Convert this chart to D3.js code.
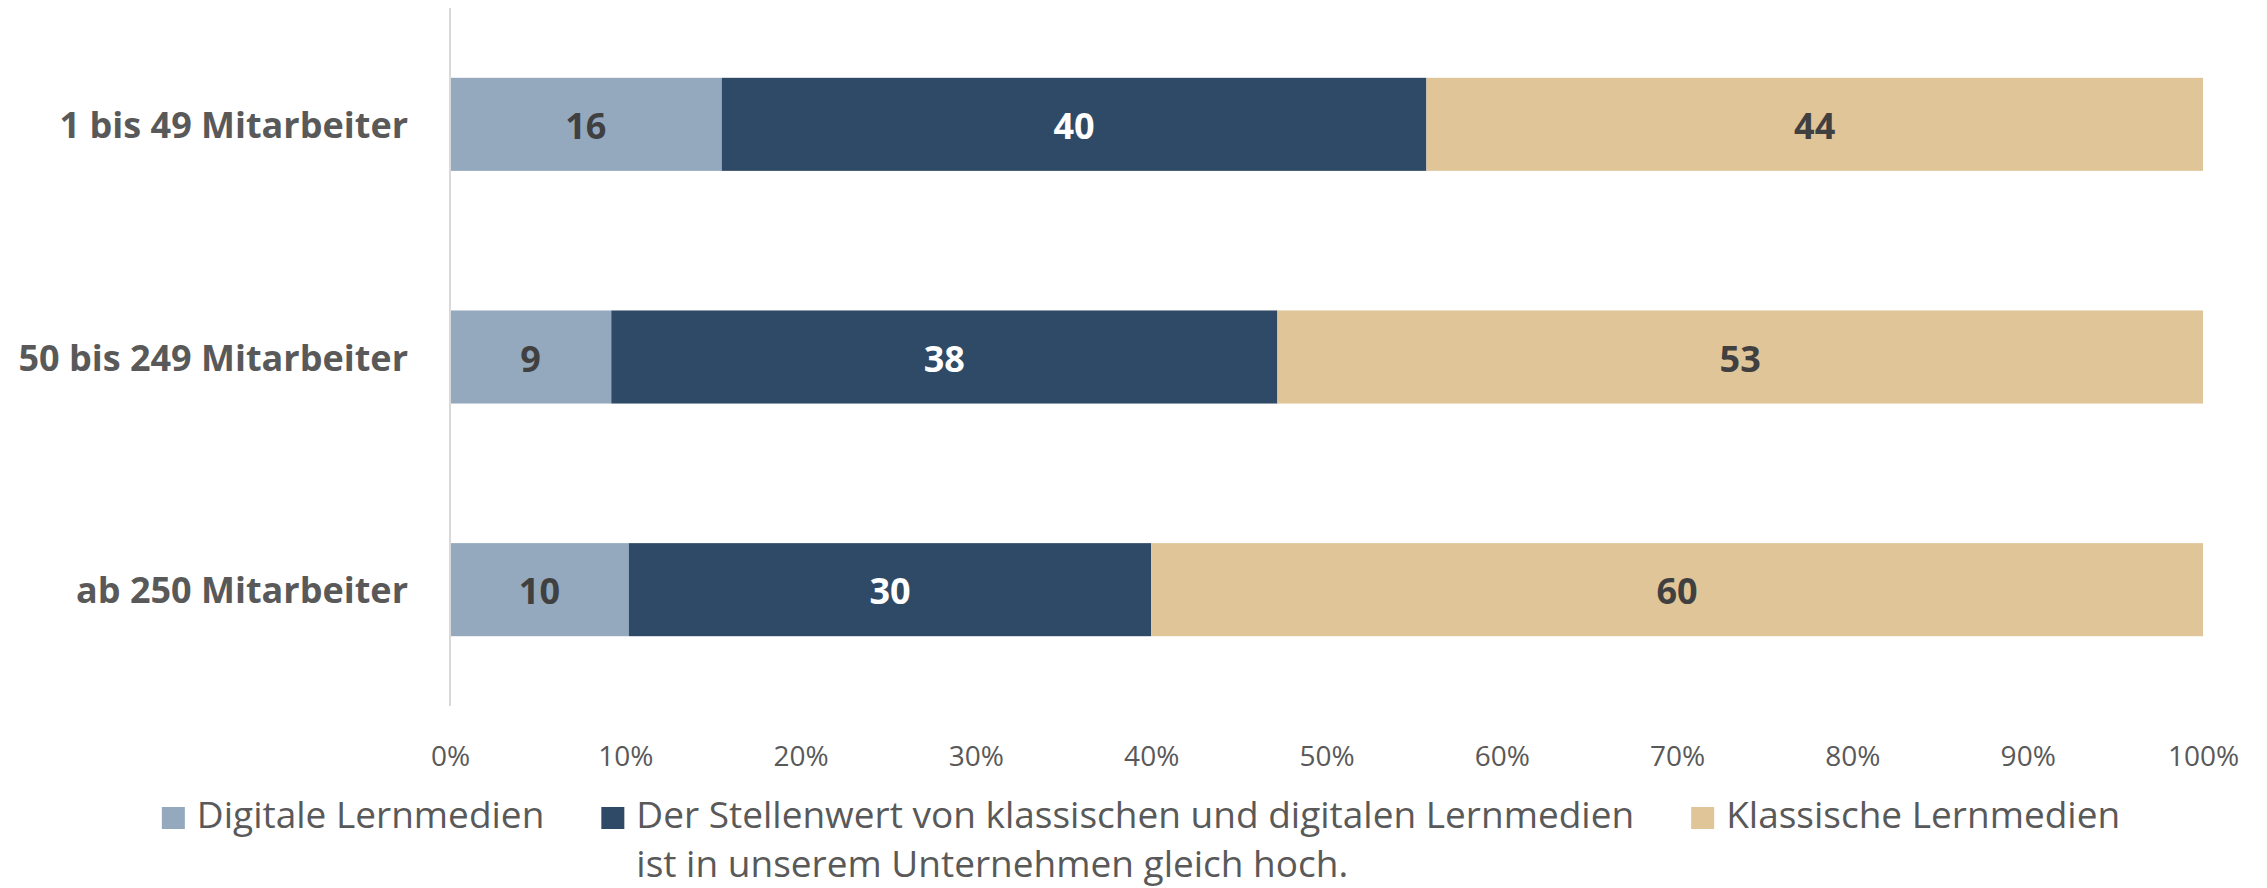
<!DOCTYPE html>
<html>
<head>
<meta charset="utf-8">
<script src="https://cdn.jsdelivr.net/npm/d3@7.9.0/dist/d3.min.js"></script>
<style>
  body { margin: 0; background: #fff; }
  svg { display: block; font-family: "Open Sans", sans-serif; }
</style>
</head>
<body>
<div id="chart"></div>
<script>
// DATA
const groups = ['1 bis 49 Mitarbeiter', '50 bis 249 Mitarbeiter', 'ab 250 Mitarbeiter'];
const digital = [15.5, 9.2, 10.2];
const equal = [40.2, 38.0, 29.8];
const classic = [44.3, 52.8, 60.0];
const seriesNames = [
  'Digitale Lernmedien',
  'Der Stellenwert von klassischen und digitalen Lernmedien|ist in unserem Unternehmen gleich hoch.',
  'Klassische Lernmedien'
];
const ticks = [0, 10, 20, 30, 40, 50, 60, 70, 80, 90, 100];

const colors = ['#94a9bd', '#2e4a66', '#e0c599'];
const labelColors = ['#404040', '#ffffff', '#404040'];

const width = 2267;
const height = 888;

const rows = groups.map((g, i) => ({
  group: g,
  s0: digital[i],
  s1: equal[i],
  s2: classic[i]
}));

const stack = d3.stack().keys(['s0', 's1', 's2']);
const layers = stack(rows);

const svg = d3.select('#chart')
  .append('svg')
  .attr('width', width)
  .attr('height', height);

const x = d3.scaleLinear()
  .domain([0, 100])
  .range([450, 2203]);

const y = d3.scaleBand()
  .domain(groups)
  .range([8, 706])
  .paddingInner(0.6)
  .paddingOuter(0.3);

// BARS
const layer = svg.append('g')
  .selectAll('g')
  .data(layers)
  .join('g')
  .attr('fill', (d, i) => colors[i]);

layer.selectAll('rect')
  .data(d => d)
  .join('rect')
  .attr('x', d => x(d[0]))
  .attr('y', d => y(d.data.group))
  .attr('width', d => x(d[1]) - x(d[0]))
  .attr('height', y.bandwidth());

// VALUE LABELS
layers.forEach((l, i) => {
  svg.append('g')
    .selectAll('text')
    .data(l)
    .join('text')
    .attr('x', d => (x(d[0]) + x(d[1])) / 2)
    .attr('y', d => y(d.data.group) + y.bandwidth() / 2 + 1)
    .attr('text-anchor', 'middle')
    .attr('dominant-baseline', 'central')
    .style('font-size', '36px')
    .style('font-weight', 700)
    .attr('fill', labelColors[i])
    .text(d => Math.round(d[1] - d[0]));
});

// Y AXIS (line + category labels)
svg.append('line')
  .attr('x1', x(0)).attr('x2', x(0))
  .attr('y1', y.range()[0]).attr('y2', y.range()[1])
  .attr('stroke', '#d9d9d9')
  .attr('stroke-width', 2);

svg.append('g')
  .selectAll('text')
  .data(groups)
  .join('text')
  .attr('x', 408)
  .attr('y', d => y(d) + y.bandwidth() / 2)
  .attr('text-anchor', 'end')
  .attr('dominant-baseline', 'central')
  .style('font-size', '36px')
  .style('font-weight', 700)
  .attr('fill', '#595959')
  .text(d => d);

// X AXIS TICKS
const xAxis = svg.append('g')
  .attr('transform', `translate(0,706)`)
  .call(d3.axisBottom(x).tickValues(ticks).tickSize(0).tickPadding(40)
    .tickFormat(d => `${d}%`));
xAxis.select('.domain').remove();
xAxis.selectAll('text')
  .attr('fill', '#595959')
  .style('font-size', '28px')
  .style('font-family', '"Open Sans", sans-serif');

// LEGEND
const legend = svg.append('g');
const items = [];
seriesNames.forEach((name, i) => {
  const g = legend.append('g');
  g.append('rect')
    .attr('width', 23).attr('height', 22)
    .attr('y', -21)
    .attr('fill', colors[i]);
  const t = g.append('text')
    .attr('x', 35)
    .style('font-size', '37px')
    .attr('fill', '#595959');
  name.split('|').forEach((line, j) => {
    t.append('tspan').attr('x', 35).attr('y', j * 49).text(line);
  });
  items.push({ g, w: 35 + t.node().getBBox().width });
});

const gap = 57;
const total = d3.sum(items, d => d.w) + gap * (items.length - 1);
let cx = 1141 - total / 2;
items.forEach(d => {
  d.g.attr('transform', `translate(${cx},828)`);
  cx += d.w + gap;
});
</script>
</body>
</html>
